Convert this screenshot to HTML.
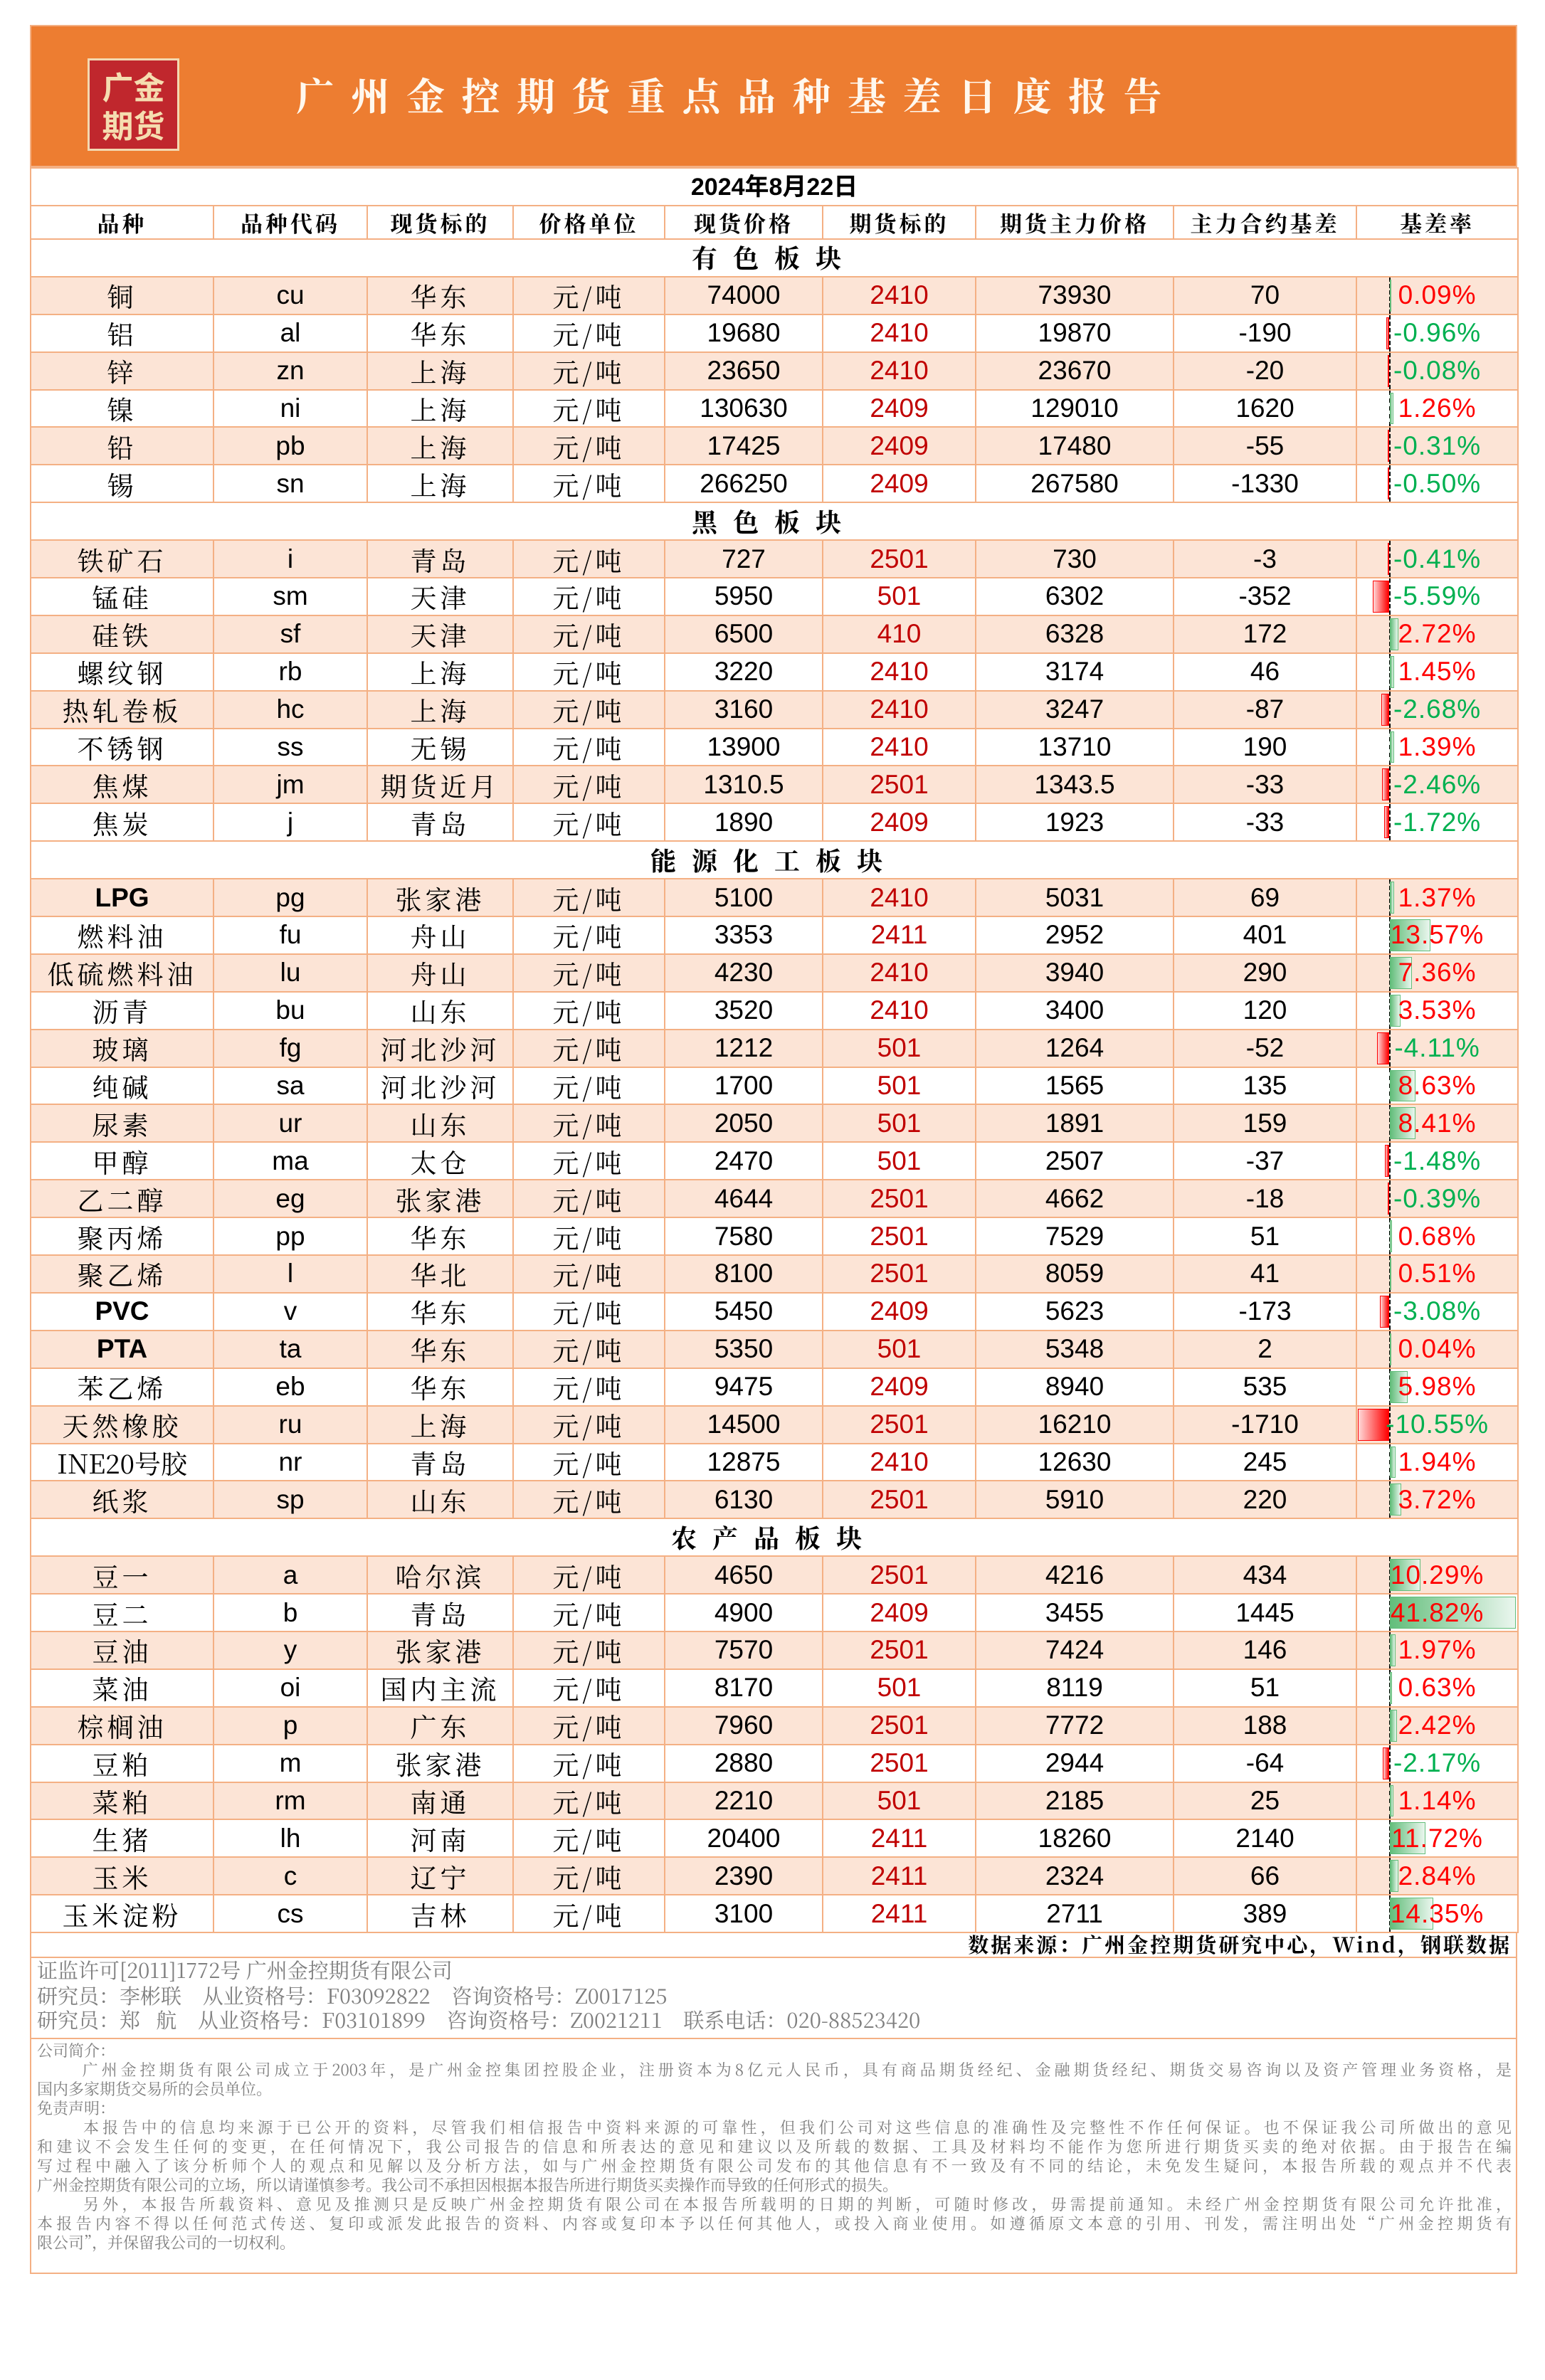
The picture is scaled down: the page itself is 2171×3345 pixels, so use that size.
<!DOCTYPE html>
<html><head><meta charset="utf-8"><style>
*{margin:0;padding:0;box-sizing:border-box}
body{width:2171px;height:3345px;background:#fff;position:relative;font-family:"Liberation Sans","Noto Sans CJK SC",sans-serif;overflow:hidden}
#hd{position:absolute;left:42px;top:35px;width:2090px;height:200px;background:#ED7D31;border:2px solid #F4B084}
#logo{position:absolute;left:79px;top:45px;width:129px;height:130px;background:#C0272D;border:3px solid #F3D9B1;color:#F5DDB0;font-family:"Noto Sans CJK SC",sans-serif;font-weight:bold;font-size:44px;line-height:54px;text-align:center;padding-top:8px}
#title{position:absolute;left:372px;top:66px;color:#FFF8EE;font-family:"Noto Serif CJK SC",serif;font-weight:bold;font-size:54px;letter-spacing:23.5px;white-space:nowrap;line-height:60px}
table{position:absolute;left:42px;top:235px;width:2090px;border-collapse:collapse;table-layout:fixed}
td{border:2px solid #F4B084;text-align:center;font-size:37px;line-height:44px;white-space:nowrap;overflow:visible;padding:0;height:52.9px;color:#000;vertical-align:middle}
.cn{font-family:"Noto Serif CJK SC",serif;letter-spacing:5px}
tr.s td{background:#FCE4D6}
.r{color:#C00000}
.sec td{font-family:"Noto Serif CJK SC",serif;font-weight:bold;font-size:36px;letter-spacing:22px;background:#fff}
.hdr td{font-family:"Noto Serif CJK SC",serif;font-size:31px;letter-spacing:4px;height:47px;line-height:40px;font-weight:bold}
.date td{font-weight:bold;font-size:34px;height:53px}
td.b{position:relative}
td.b:before{content:"";position:absolute;left:45px;top:0;bottom:0;border-left:2px dashed #000}
td.b i{position:absolute;top:3px;bottom:3px;display:block}
i.p{left:46px;background:linear-gradient(to right,#63BE7B,#EAF6EE);border:1px solid #63BE7B}
i.n{right:180px;background:linear-gradient(to left,#FF0000,#FFD8D8);border:1px solid #FF0000}
td.b span{position:relative;letter-spacing:1px}
.pos{color:#FF0000}.neg{color:#00B050}
#src{position:absolute;left:42px;top:2716px;width:2090px;height:36px;border:2px solid #F4B084;border-top:none;text-align:right;padding-right:6px;font-family:"Noto Serif CJK SC",serif;font-weight:bold;font-size:29px;line-height:34px;letter-spacing:3px}
#info{position:absolute;left:42px;top:2752px;width:2090px;height:444px;border:2px solid #F4B084;border-top:none;color:#7F7F7F;font-family:"Noto Serif CJK SC",serif}
.il{position:absolute;left:8px;font-size:29px;line-height:34px;white-space:nowrap}
#disc{position:absolute;left:8px;top:116px;width:2072px;font-size:22px;line-height:27px;color:#7F7F7F}
#disc div{text-align:justify;text-align-last:justify;white-space:nowrap;overflow:hidden;height:27px}
#disc div.l{text-align-last:left}
#line2{position:absolute;left:0;top:112px;width:2086px;border-top:2px solid #F4B084}
</style></head><body>
<div id="hd"><div id="logo">广金<br>期货</div><div id="title">广州金控期货重点品种基差日度报告</div></div>
<table>
<colgroup><col style="width:257px"><col style="width:216px"><col style="width:205px"><col style="width:213px"><col style="width:222px"><col style="width:215px"><col style="width:278px"><col style="width:257px"><col style="width:227px"></colgroup>
<tr class="date"><td colspan="9">2024年8月22日</td></tr>
<tr class="hdr"><td>品种</td><td>品种代码</td><td>现货标的</td><td>价格单位</td><td>现货价格</td><td>期货标的</td><td>期货主力价格</td><td>主力合约基差</td><td>基差率</td></tr>
<tr class="sec"><td colspan="9">有色板块</td></tr>
<tr class="s"><td class="cn">铜</td><td>cu</td><td class="cn">华东</td><td class="cn">元/吨</td><td>74000</td><td class="r">2410</td><td>73930</td><td>70</td><td class="b"><i class="p" style="width:1px"></i><span class="pos">0.09%</span></td></tr>
<tr><td class="cn">铝</td><td>al</td><td class="cn">华东</td><td class="cn">元/吨</td><td>19680</td><td class="r">2410</td><td>19870</td><td>-190</td><td class="b"><i class="n" style="width:4px"></i><span class="neg">-0.96%</span></td></tr>
<tr class="s"><td class="cn">锌</td><td>zn</td><td class="cn">上海</td><td class="cn">元/吨</td><td>23650</td><td class="r">2410</td><td>23670</td><td>-20</td><td class="b"><i class="n" style="width:1px"></i><span class="neg">-0.08%</span></td></tr>
<tr><td class="cn">镍</td><td>ni</td><td class="cn">上海</td><td class="cn">元/吨</td><td>130630</td><td class="r">2409</td><td>129010</td><td>1620</td><td class="b"><i class="p" style="width:5px"></i><span class="pos">1.26%</span></td></tr>
<tr class="s"><td class="cn">铅</td><td>pb</td><td class="cn">上海</td><td class="cn">元/吨</td><td>17425</td><td class="r">2409</td><td>17480</td><td>-55</td><td class="b"><i class="n" style="width:1.5px"></i><span class="neg">-0.31%</span></td></tr>
<tr><td class="cn">锡</td><td>sn</td><td class="cn">上海</td><td class="cn">元/吨</td><td>266250</td><td class="r">2409</td><td>267580</td><td>-1330</td><td class="b"><i class="n" style="width:2px"></i><span class="neg">-0.50%</span></td></tr>
<tr class="sec"><td colspan="9">黑色板块</td></tr>
<tr class="s"><td class="cn">铁矿石</td><td>i</td><td class="cn">青岛</td><td class="cn">元/吨</td><td>727</td><td class="r">2501</td><td>730</td><td>-3</td><td class="b"><i class="n" style="width:2px"></i><span class="neg">-0.41%</span></td></tr>
<tr><td class="cn">锰硅</td><td>sm</td><td class="cn">天津</td><td class="cn">元/吨</td><td>5950</td><td class="r">501</td><td>6302</td><td>-352</td><td class="b"><i class="n" style="width:23.6px"></i><span class="neg">-5.59%</span></td></tr>
<tr class="s"><td class="cn">硅铁</td><td>sf</td><td class="cn">天津</td><td class="cn">元/吨</td><td>6500</td><td class="r">410</td><td>6328</td><td>172</td><td class="b"><i class="p" style="width:11.5px"></i><span class="pos">2.72%</span></td></tr>
<tr><td class="cn">螺纹钢</td><td>rb</td><td class="cn">上海</td><td class="cn">元/吨</td><td>3220</td><td class="r">2410</td><td>3174</td><td>46</td><td class="b"><i class="p" style="width:6.1px"></i><span class="pos">1.45%</span></td></tr>
<tr class="s"><td class="cn">热轧卷板</td><td>hc</td><td class="cn">上海</td><td class="cn">元/吨</td><td>3160</td><td class="r">2410</td><td>3247</td><td>-87</td><td class="b"><i class="n" style="width:11.3px"></i><span class="neg">-2.68%</span></td></tr>
<tr><td class="cn">不锈钢</td><td>ss</td><td class="cn">无锡</td><td class="cn">元/吨</td><td>13900</td><td class="r">2410</td><td>13710</td><td>190</td><td class="b"><i class="p" style="width:5.9px"></i><span class="pos">1.39%</span></td></tr>
<tr class="s"><td class="cn">焦煤</td><td>jm</td><td class="cn">期货近月</td><td class="cn">元/吨</td><td>1310.5</td><td class="r">2501</td><td>1343.5</td><td>-33</td><td class="b"><i class="n" style="width:10.4px"></i><span class="neg">-2.46%</span></td></tr>
<tr><td class="cn">焦炭</td><td>j</td><td class="cn">青岛</td><td class="cn">元/吨</td><td>1890</td><td class="r">2409</td><td>1923</td><td>-33</td><td class="b"><i class="n" style="width:7.3px"></i><span class="neg">-1.72%</span></td></tr>
<tr class="sec"><td colspan="9">能源化工板块</td></tr>
<tr class="s"><td style="font-weight:bold">LPG</td><td>pg</td><td class="cn">张家港</td><td class="cn">元/吨</td><td>5100</td><td class="r">2410</td><td>5031</td><td>69</td><td class="b"><i class="p" style="width:5.8px"></i><span class="pos">1.37%</span></td></tr>
<tr><td class="cn">燃料油</td><td>fu</td><td class="cn">舟山</td><td class="cn">元/吨</td><td>3353</td><td class="r">2411</td><td>2952</td><td>401</td><td class="b"><i class="p" style="width:57.3px"></i><span class="pos">13.57%</span></td></tr>
<tr class="s"><td class="cn">低硫燃料油</td><td>lu</td><td class="cn">舟山</td><td class="cn">元/吨</td><td>4230</td><td class="r">2410</td><td>3940</td><td>290</td><td class="b"><i class="p" style="width:31.1px"></i><span class="pos">7.36%</span></td></tr>
<tr><td class="cn">沥青</td><td>bu</td><td class="cn">山东</td><td class="cn">元/吨</td><td>3520</td><td class="r">2410</td><td>3400</td><td>120</td><td class="b"><i class="p" style="width:14.9px"></i><span class="pos">3.53%</span></td></tr>
<tr class="s"><td class="cn">玻璃</td><td>fg</td><td class="cn">河北沙河</td><td class="cn">元/吨</td><td>1212</td><td class="r">501</td><td>1264</td><td>-52</td><td class="b"><i class="n" style="width:17.3px"></i><span class="neg">-4.11%</span></td></tr>
<tr><td class="cn">纯碱</td><td>sa</td><td class="cn">河北沙河</td><td class="cn">元/吨</td><td>1700</td><td class="r">501</td><td>1565</td><td>135</td><td class="b"><i class="p" style="width:36.4px"></i><span class="pos">8.63%</span></td></tr>
<tr class="s"><td class="cn">尿素</td><td>ur</td><td class="cn">山东</td><td class="cn">元/吨</td><td>2050</td><td class="r">501</td><td>1891</td><td>159</td><td class="b"><i class="p" style="width:35.5px"></i><span class="pos">8.41%</span></td></tr>
<tr><td class="cn">甲醇</td><td>ma</td><td class="cn">太仓</td><td class="cn">元/吨</td><td>2470</td><td class="r">501</td><td>2507</td><td>-37</td><td class="b"><i class="n" style="width:6.2px"></i><span class="neg">-1.48%</span></td></tr>
<tr class="s"><td class="cn">乙二醇</td><td>eg</td><td class="cn">张家港</td><td class="cn">元/吨</td><td>4644</td><td class="r">2501</td><td>4662</td><td>-18</td><td class="b"><i class="n" style="width:1.6px"></i><span class="neg">-0.39%</span></td></tr>
<tr><td class="cn">聚丙烯</td><td>pp</td><td class="cn">华东</td><td class="cn">元/吨</td><td>7580</td><td class="r">2501</td><td>7529</td><td>51</td><td class="b"><i class="p" style="width:2.9px"></i><span class="pos">0.68%</span></td></tr>
<tr class="s"><td class="cn">聚乙烯</td><td>l</td><td class="cn">华北</td><td class="cn">元/吨</td><td>8100</td><td class="r">2501</td><td>8059</td><td>41</td><td class="b"><i class="p" style="width:2.2px"></i><span class="pos">0.51%</span></td></tr>
<tr><td style="font-weight:bold">PVC</td><td>v</td><td class="cn">华东</td><td class="cn">元/吨</td><td>5450</td><td class="r">2409</td><td>5623</td><td>-173</td><td class="b"><i class="n" style="width:13px"></i><span class="neg">-3.08%</span></td></tr>
<tr class="s"><td style="font-weight:bold">PTA</td><td>ta</td><td class="cn">华东</td><td class="cn">元/吨</td><td>5350</td><td class="r">501</td><td>5348</td><td>2</td><td class="b"><i class="p" style="width:0.5px"></i><span class="pos">0.04%</span></td></tr>
<tr><td class="cn">苯乙烯</td><td>eb</td><td class="cn">华东</td><td class="cn">元/吨</td><td>9475</td><td class="r">2409</td><td>8940</td><td>535</td><td class="b"><i class="p" style="width:25.2px"></i><span class="pos">5.98%</span></td></tr>
<tr class="s"><td class="cn">天然橡胶</td><td>ru</td><td class="cn">上海</td><td class="cn">元/吨</td><td>14500</td><td class="r">2501</td><td>16210</td><td>-1710</td><td class="b"><i class="n" style="width:44.5px"></i><span class="neg">-10.55%</span></td></tr>
<tr><td class="cn" style="letter-spacing:0">INE20号胶</td><td>nr</td><td class="cn">青岛</td><td class="cn">元/吨</td><td>12875</td><td class="r">2410</td><td>12630</td><td>245</td><td class="b"><i class="p" style="width:8.2px"></i><span class="pos">1.94%</span></td></tr>
<tr class="s"><td class="cn">纸浆</td><td>sp</td><td class="cn">山东</td><td class="cn">元/吨</td><td>6130</td><td class="r">2501</td><td>5910</td><td>220</td><td class="b"><i class="p" style="width:15.7px"></i><span class="pos">3.72%</span></td></tr>
<tr class="sec"><td colspan="9">农产品板块</td></tr>
<tr class="s"><td class="cn">豆一</td><td>a</td><td class="cn">哈尔滨</td><td class="cn">元/吨</td><td>4650</td><td class="r">2501</td><td>4216</td><td>434</td><td class="b"><i class="p" style="width:43.4px"></i><span class="pos">10.29%</span></td></tr>
<tr><td class="cn">豆二</td><td>b</td><td class="cn">青岛</td><td class="cn">元/吨</td><td>4900</td><td class="r">2409</td><td>3455</td><td>1445</td><td class="b"><i class="p" style="width:177px"></i><span class="pos">41.82%</span></td></tr>
<tr class="s"><td class="cn">豆油</td><td>y</td><td class="cn">张家港</td><td class="cn">元/吨</td><td>7570</td><td class="r">2501</td><td>7424</td><td>146</td><td class="b"><i class="p" style="width:8.3px"></i><span class="pos">1.97%</span></td></tr>
<tr><td class="cn">菜油</td><td>oi</td><td class="cn">国内主流</td><td class="cn">元/吨</td><td>8170</td><td class="r">501</td><td>8119</td><td>51</td><td class="b"><i class="p" style="width:2.7px"></i><span class="pos">0.63%</span></td></tr>
<tr class="s"><td class="cn">棕榈油</td><td>p</td><td class="cn">广东</td><td class="cn">元/吨</td><td>7960</td><td class="r">2501</td><td>7772</td><td>188</td><td class="b"><i class="p" style="width:10.2px"></i><span class="pos">2.42%</span></td></tr>
<tr><td class="cn">豆粕</td><td>m</td><td class="cn">张家港</td><td class="cn">元/吨</td><td>2880</td><td class="r">2501</td><td>2944</td><td>-64</td><td class="b"><i class="n" style="width:9.2px"></i><span class="neg">-2.17%</span></td></tr>
<tr class="s"><td class="cn">菜粕</td><td>rm</td><td class="cn">南通</td><td class="cn">元/吨</td><td>2210</td><td class="r">501</td><td>2185</td><td>25</td><td class="b"><i class="p" style="width:4.8px"></i><span class="pos">1.14%</span></td></tr>
<tr><td class="cn">生猪</td><td>lh</td><td class="cn">河南</td><td class="cn">元/吨</td><td>20400</td><td class="r">2411</td><td>18260</td><td>2140</td><td class="b"><i class="p" style="width:49.5px"></i><span class="pos">11.72%</span></td></tr>
<tr class="s"><td class="cn">玉米</td><td>c</td><td class="cn">辽宁</td><td class="cn">元/吨</td><td>2390</td><td class="r">2411</td><td>2324</td><td>66</td><td class="b"><i class="p" style="width:12px"></i><span class="pos">2.84%</span></td></tr>
<tr><td class="cn">玉米淀粉</td><td>cs</td><td class="cn">吉林</td><td class="cn">元/吨</td><td>3100</td><td class="r">2411</td><td>2711</td><td>389</td><td class="b"><i class="p" style="width:60.6px"></i><span class="pos">14.35%</span></td></tr>
</table>
<div id="src">数据来源：广州金控期货研究中心，Wind，钢联数据</div>
<div id="info">
<div class="il" style="top:0px">证监许可[2011]1772号 广州金控期货有限公司</div>
<div class="il" style="top:36px">研究员：李彬联&nbsp;&nbsp;&nbsp;&nbsp;从业资格号：F03092822&nbsp;&nbsp;&nbsp;&nbsp;咨询资格号：Z0017125</div>
<div class="il" style="top:70px">研究员：郑&nbsp;&nbsp;&nbsp;航&nbsp;&nbsp;&nbsp;&nbsp;从业资格号：F03101899&nbsp;&nbsp;&nbsp;&nbsp;咨询资格号：Z0021211&nbsp;&nbsp;&nbsp;&nbsp;联系电话：020-88523420</div>
<div id="line2"></div>
<div id="disc">
<div class="l">公司简介：</div>
<div>&nbsp;&nbsp;&nbsp;&nbsp;&nbsp;&nbsp;广州金控期货有限公司成立于2003年，是广州金控集团控股企业，注册资本为8亿元人民币，具有商品期货经纪、金融期货经纪、期货交易咨询以及资产管理业务资格，是</div>
<div class="l">国内多家期货交易所的会员单位。</div>
<div class="l">免责声明：</div>
<div>&nbsp;&nbsp;&nbsp;&nbsp;&nbsp;&nbsp;本报告中的信息均来源于已公开的资料，尽管我们相信报告中资料来源的可靠性，但我们公司对这些信息的准确性及完整性不作任何保证。也不保证我公司所做出的意见</div>
<div>和建议不会发生任何的变更，在任何情况下，我公司报告的信息和所表达的意见和建议以及所载的数据、工具及材料均不能作为您所进行期货买卖的绝对依据。由于报告在编</div>
<div>写过程中融入了该分析师个人的观点和见解以及分析方法，如与广州金控期货有限公司发布的其他信息有不一致及有不同的结论，未免发生疑问，本报告所载的观点并不代表</div>
<div class="l">广州金控期货有限公司的立场，所以请谨慎参考。我公司不承担因根据本报告所进行期货买卖操作而导致的任何形式的损失。</div>
<div>&nbsp;&nbsp;&nbsp;&nbsp;&nbsp;&nbsp;另外，本报告所载资料、意见及推测只是反映广州金控期货有限公司在本报告所载明的日期的判断，可随时修改，毋需提前通知。未经广州金控期货有限公司允许批准，</div>
<div>本报告内容不得以任何范式传送、复印或派发此报告的资料、内容或复印本予以任何其他人，或投入商业使用。如遵循原文本意的引用、刊发，需注明出处“广州金控期货有</div>
<div class="l">限公司”，并保留我公司的一切权利。</div>
</div>
</div>
</body></html>
